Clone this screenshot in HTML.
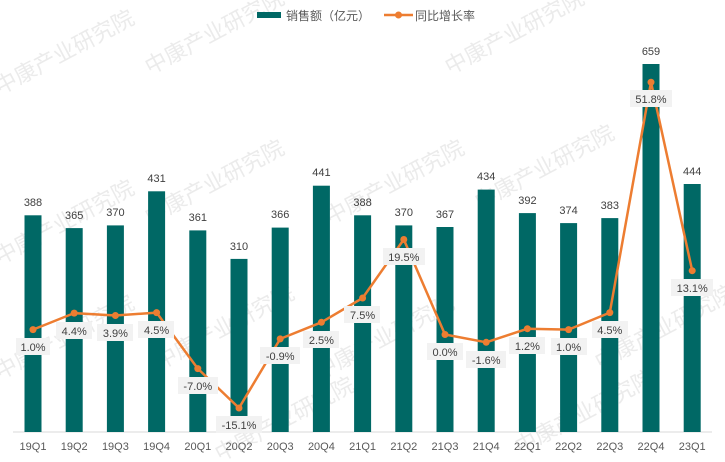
<!DOCTYPE html>
<html><head><meta charset="utf-8"><style>
html,body{margin:0;background:#fff;width:725px;height:462px;overflow:hidden}
svg{display:block;overflow:hidden;font-family:"Liberation Sans","Noto Sans CJK SC",sans-serif}
</style></head><body>
<svg width="725" height="462" viewBox="0 0 725 462" xmlns="http://www.w3.org/2000/svg">
<g fill="#e3e3e3" font-size="22" opacity="0.7">
<text transform="translate(0,95) rotate(-28)">中康产业研究院</text>
<text transform="translate(150,75) rotate(-28)">中康产业研究院</text>
<text transform="translate(450,75) rotate(-28)">中康产业研究院</text>
<text transform="translate(0,265) rotate(-28)">中康产业研究院</text>
<text transform="translate(150,225) rotate(-28)">中康产业研究院</text>
<text transform="translate(330,225) rotate(-28)">中康产业研究院</text>
<text transform="translate(480,210) rotate(-28)">中康产业研究院</text>
<text transform="translate(0,380) rotate(-28)">中康产业研究院</text>
<text transform="translate(160,370) rotate(-28)">中康产业研究院</text>
<text transform="translate(320,380) rotate(-28)">中康产业研究院</text>
<text transform="translate(600,370) rotate(-28)">中康产业研究院</text>
<text transform="translate(220,462) rotate(-28)">中康产业研究院</text>
<text transform="translate(520,455) rotate(-28)">中康产业研究院</text>
</g>
<line x1="13" y1="432" x2="712" y2="432" stroke="#d9d9d9" stroke-width="1"/>
<g fill="#006865">
<rect x="24.5" y="215.3" width="17" height="216.7"/>
<rect x="65.7" y="228.1" width="17" height="203.9"/>
<rect x="106.9" y="225.4" width="17" height="206.6"/>
<rect x="148.1" y="191.3" width="17" height="240.7"/>
<rect x="189.3" y="230.4" width="17" height="201.6"/>
<rect x="230.5" y="258.9" width="17" height="173.1"/>
<rect x="271.7" y="227.6" width="17" height="204.4"/>
<rect x="312.9" y="185.7" width="17" height="246.3"/>
<rect x="354.1" y="215.3" width="17" height="216.7"/>
<rect x="395.3" y="225.4" width="17" height="206.6"/>
<rect x="436.5" y="227.0" width="17" height="205.0"/>
<rect x="477.7" y="189.6" width="17" height="242.4"/>
<rect x="518.9" y="213.1" width="17" height="218.9"/>
<rect x="560.1" y="223.1" width="17" height="208.9"/>
<rect x="601.3" y="218.1" width="17" height="213.9"/>
<rect x="642.5" y="64" width="17" height="368"/>
<rect x="683.7" y="184.0" width="17" height="248.0"/>
</g>
<g fill="#404040" font-size="11" text-anchor="middle">
<text x="33" y="206">388</text><text x="74.2" y="219">365</text><text x="115.4" y="216">370</text><text x="156.6" y="182">431</text>
<text x="197.8" y="221">361</text><text x="239" y="250">310</text><text x="280.2" y="218">366</text><text x="321.4" y="176">441</text>
<text x="362.6" y="206">388</text><text x="403.8" y="216">370</text><text x="445" y="218">367</text><text x="486.2" y="180">434</text>
<text x="527.4" y="204">392</text><text x="568.6" y="214">374</text><text x="609.8" y="209">383</text><text x="651" y="55">659</text><text x="692.2" y="175">444</text>
</g>
<polyline fill="none" stroke="#ed7d31" stroke-width="2.5" stroke-linejoin="round" points="33,329.6 74.2,313.1 115.4,315.5 156.6,312.6 197.8,368.6 239,408 280.2,338.9 321.4,322.3 362.6,298 403.8,239.5 445,334.5 486.2,342.3 527.4,328.7 568.6,329.6 609.8,312.6 651,82.2 692.2,270.7"/>
<g fill="#ed7d31">
<circle cx="33" cy="329.6" r="3.5"/><circle cx="74.2" cy="313.1" r="3.5"/><circle cx="115.4" cy="315.5" r="3.5"/><circle cx="156.6" cy="312.6" r="3.5"/>
<circle cx="197.8" cy="368.6" r="3.5"/><circle cx="239" cy="408" r="3.5"/><circle cx="280.2" cy="338.9" r="3.5"/><circle cx="321.4" cy="322.3" r="3.5"/>
<circle cx="362.6" cy="298" r="3.5"/><circle cx="403.8" cy="239.5" r="3.5"/><circle cx="445" cy="334.5" r="3.5"/><circle cx="486.2" cy="342.3" r="3.5"/>
<circle cx="527.4" cy="328.7" r="3.5"/><circle cx="568.6" cy="329.6" r="3.5"/><circle cx="609.8" cy="312.6" r="3.5"/><circle cx="651" cy="82.2" r="3.5"/><circle cx="692.2" cy="270.7" r="3.5"/>
</g>
<g fill="#f2f2f2">
<rect x="16" y="338" width="34" height="17"/><rect x="56" y="322" width="36" height="17"/><rect x="97" y="324" width="36" height="17"/><rect x="138" y="321" width="36" height="17"/>
<rect x="178" y="377" width="40" height="17"/><rect x="216" y="416" width="46" height="17"/><rect x="260" y="347" width="40" height="17"/><rect x="303" y="331" width="36" height="17"/>
<rect x="344" y="306" width="36" height="17"/><rect x="383" y="248" width="42" height="17"/><rect x="427" y="343" width="36" height="17"/><rect x="466" y="351" width="40" height="17"/>
<rect x="509" y="337" width="36" height="17"/><rect x="551" y="338" width="36" height="17"/><rect x="592" y="321" width="36" height="17"/><rect x="630" y="90" width="42" height="17"/><rect x="671" y="279" width="42" height="17"/>
</g>
<g fill="#404040" font-size="11" text-anchor="middle">
<text x="33" y="351">1.0%</text><text x="74.2" y="335">4.4%</text><text x="115.4" y="337">3.9%</text><text x="156.6" y="334">4.5%</text>
<text x="197.8" y="390">-7.0%</text><text x="239" y="429">-15.1%</text><text x="280.2" y="360">-0.9%</text><text x="321.4" y="344">2.5%</text>
<text x="362.6" y="319">7.5%</text><text x="403.8" y="261">19.5%</text><text x="445" y="356">0.0%</text><text x="486.2" y="364">-1.6%</text>
<text x="527.4" y="350">1.2%</text><text x="568.6" y="351">1.0%</text><text x="609.8" y="334">4.5%</text><text x="651" y="103">51.8%</text><text x="692.2" y="292">13.1%</text>
</g>
<g fill="#595959" font-size="11" text-anchor="middle">
<text x="33" y="450">19Q1</text><text x="74.2" y="450">19Q2</text><text x="115.4" y="450">19Q3</text><text x="156.6" y="450">19Q4</text>
<text x="197.8" y="450">20Q1</text><text x="239" y="450">20Q2</text><text x="280.2" y="450">20Q3</text><text x="321.4" y="450">20Q4</text>
<text x="362.6" y="450">21Q1</text><text x="403.8" y="450">21Q2</text><text x="445" y="450">21Q3</text><text x="486.2" y="450">21Q4</text>
<text x="527.4" y="450">22Q1</text><text x="568.6" y="450">22Q2</text><text x="609.8" y="450">22Q3</text><text x="651" y="450">22Q4</text><text x="692.2" y="450">23Q1</text>
</g>
<rect x="257" y="12" width="24" height="6" fill="#006865"/>
<text x="286" y="20" font-size="12" fill="#595959">销售额（亿元）</text>
<line x1="384" y1="15" x2="413" y2="15" stroke="#ed7d31" stroke-width="2.5"/>
<circle cx="398.5" cy="15" r="3.5" fill="#ed7d31"/>
<text x="415" y="20" font-size="12" fill="#595959">同比增长率</text>
</svg>
</body></html>
